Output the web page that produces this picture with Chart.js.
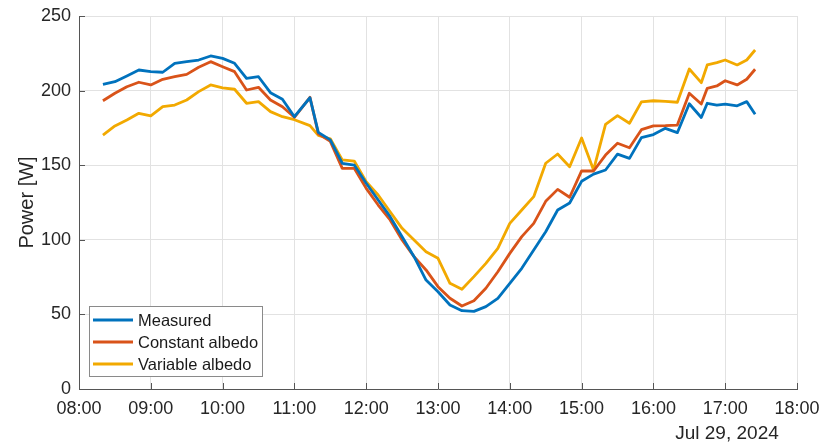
<!DOCTYPE html>
<html>
<head>
<meta charset="utf-8">
<script src="https://cdn.jsdelivr.net/npm/chart.js@4/dist/chart.umd.min.js"></script>
<style>
  html, body { margin: 0; padding: 0; background: #fff; }
  #wrap { width: 820px; height: 447px; position: relative; }
</style>
</head>
<body>
<div id="wrap"><canvas id="c" width="820" height="447"></canvas></div>
<script>
// Sample times (local time, Jul 29, 2024)
const times = [
  '08:20','08:30','08:40','08:50','09:00','09:10','09:20','09:30','09:40','09:50',
  '10:00','10:10','10:20','10:30','10:40','10:50','11:00','11:13','11:20','11:30',
  '11:40','11:50','12:00','12:10','12:20','12:30','12:40','12:50','13:00','13:10',
  '13:20','13:30','13:40','13:50','14:00','14:10','14:20','14:30','14:40','14:50',
  '15:00','15:10','15:20','15:30','15:40','15:50','16:00','16:10','16:20','16:30',
  '16:40','16:45','16:53','17:00','17:10','17:18','17:25'
];

// Power [W]
const measured = [
  204.2,206.0,209.8,213.8,212.7,212.3,218.3,219.4,220.5,223.2,
  221.6,218.3,208.2,209.3,198.6,194.2,182.5,195.2,172.0,167.0,
  151.3,150.1,137.9,126.7,115.5,102.0,88.7,73.0,65.2,56.3,
  52.5,52.0,55.2,60.8,70.8,80.9,93.2,105.4,120.0,124.7,
  139.2,144.0,146.8,157.4,154.6,168.5,170.5,174.7,171.8,191.2,
  182.0,191.5,190.3,191.0,189.8,192.6,184.2
];
const constantAlbedo = [
  193.2,198.2,202.6,205.6,203.8,207.6,209.3,210.9,215.6,219.4,
  216.0,212.7,200.4,202.2,193.7,189.2,182.1,195.5,171.0,166.0,
  147.9,147.9,134.5,123.3,113.3,99.9,88.7,79.8,68.6,60.8,
  55.6,59.2,67.5,78.6,90.9,102.1,111.0,125.8,133.8,128.5,
  146.2,146.1,156.8,164.7,161.7,173.8,176.3,176.5,176.9,198.2,
  191.0,201.5,203.1,206.6,203.8,207.6,214.3
];
const variableAlbedo = [
  170.2,176.3,180.3,184.8,183.0,189.2,190.3,193.7,199.3,203.8,
  201.9,200.9,191.5,192.6,185.9,182.5,180.5,176.5,170.0,167.7,
  153.5,152.8,138.9,130.0,118.8,107.7,99.9,92.0,87.6,70.8,
  66.8,75.3,84.2,94.3,111.0,120.0,128.9,151.3,157.5,149.0,
  168.2,146.8,177.4,183.2,178.1,192.4,193.2,192.8,192.2,214.5,
  205.3,217.2,218.7,220.5,217.2,220.5,227.2
];

const seriesNames = ['Measured', 'Constant albedo', 'Variable albedo'];
const seriesColors = ['#0072BD', '#D95319', '#F2A900'];
const dateLabel = 'Jul 29, 2024';

const toMinutes = t => { const [h, m] = t.split(':').map(Number); return h * 60 + m; };
const pad2 = n => String(n).padStart(2, '0');
const fmtTime = v => pad2(Math.floor(v / 60)) + ':' + pad2(v % 60);

const mkPoints = vals => times.map((t, i) => ({ x: toMinutes(t), y: vals[i] }));

const AXIS_COLOR = '#555555';
const TEXT_COLOR = '#262626';
const FONT = '"Liberation Sans", Arial, Helvetica, sans-serif';

// Inward tick marks on the left and bottom axes, plus the date stamp
const axisDecor = {
  id: 'axisDecor',
  afterDatasetsDraw(chart) {
    const { ctx, chartArea: a, scales: { x, y } } = chart;
    ctx.save();
    ctx.strokeStyle = AXIS_COLOR;
    ctx.lineWidth = 1;
    ctx.beginPath();
    x.ticks.forEach(t => {
      const px = Math.round(x.getPixelForValue(t.value)) + 0.5;
      ctx.moveTo(px, a.bottom);
      ctx.lineTo(px, a.bottom - 6);
    });
    y.ticks.forEach(t => {
      const py = Math.round(y.getPixelForValue(t.value)) + 0.5;
      ctx.moveTo(a.left, py);
      ctx.lineTo(a.left + 6, py);
    });
    ctx.stroke();

    ctx.fillStyle = TEXT_COLOR;
    ctx.font = '19px ' + FONT;
    ctx.textAlign = 'center';
    ctx.textBaseline = 'middle';
    ctx.fillText(dateLabel, 727, 434);
    ctx.restore();
  }
};

// Legend box in the lower-left corner of the plot
const boxLegend = {
  id: 'boxLegend',
  afterDraw(chart) {
    const { ctx } = chart;
    const bx = 89.5, by = 306.5, bw = 173, bh = 70;
    ctx.save();
    ctx.fillStyle = '#ffffff';
    ctx.fillRect(bx, by, bw, bh);
    ctx.strokeStyle = '#8a8a8a';
    ctx.lineWidth = 1;
    ctx.strokeRect(bx, by, bw, bh);
    ctx.font = '16.5px ' + FONT;
    ctx.textAlign = 'left';
    ctx.textBaseline = 'middle';
    chart.data.datasets.forEach((ds, i) => {
      const ry = 320 + i * 22;
      ctx.strokeStyle = ds.borderColor;
      ctx.lineWidth = 2.8;
      ctx.beginPath();
      ctx.moveTo(93, ry);
      ctx.lineTo(133, ry);
      ctx.stroke();
      ctx.fillStyle = '#1a1a1a';
      ctx.fillText(ds.label, 138, ry + 1);
    });
    ctx.restore();
  }
};

new Chart(document.getElementById('c'), {
  type: 'line',
  data: {
    datasets: [
      { label: seriesNames[0], data: mkPoints(measured), borderColor: seriesColors[0] },
      { label: seriesNames[1], data: mkPoints(constantAlbedo), borderColor: seriesColors[1] },
      { label: seriesNames[2], data: mkPoints(variableAlbedo), borderColor: seriesColors[2] }
    ].map((d, i) => Object.assign(d, {
      borderWidth: 2.8, pointRadius: 0, tension: 0, fill: false,
      borderJoinStyle: 'round', order: i
    }))
  },
  options: {
    responsive: false,
    animation: false,
    devicePixelRatio: 1,
    layout: { padding: { top: 16, right: 23, left: 0, bottom: 0 } },
    plugins: {
      legend: { display: false },
      tooltip: { enabled: false }
    },
    scales: {
      x: {
        type: 'linear',
        min: 480, max: 1080,
        ticks: {
          stepSize: 60,
          callback: v => fmtTime(v),
          color: TEXT_COLOR,
          font: { family: FONT, size: 18 },
          padding: 9,
          maxRotation: 0,
          autoSkip: false
        },
        grid: { color: '#e2e2e2', drawTicks: false },
        border: { color: AXIS_COLOR, width: 1 },
        afterFit: s => { s.height = 58; s.paddingLeft = 0; s.paddingRight = 0; }
      },
      y: {
        min: 0, max: 250,
        ticks: {
          stepSize: 50,
          color: TEXT_COLOR,
          font: { family: FONT, size: 18 },
          padding: 8
        },
        grid: { color: '#e2e2e2', drawTicks: false },
        border: { color: AXIS_COLOR, width: 1 },
        title: {
          display: true,
          text: 'Power [W]',
          color: TEXT_COLOR,
          font: { family: FONT, size: 20 },
          padding: { top: 15, bottom: 0 }
        },
        afterFit: s => { s.width = 79; s.paddingTop = 0; s.paddingBottom = 0; }
      }
    }
  },
  plugins: [axisDecor, boxLegend]
});
</script>
</body>
</html>
